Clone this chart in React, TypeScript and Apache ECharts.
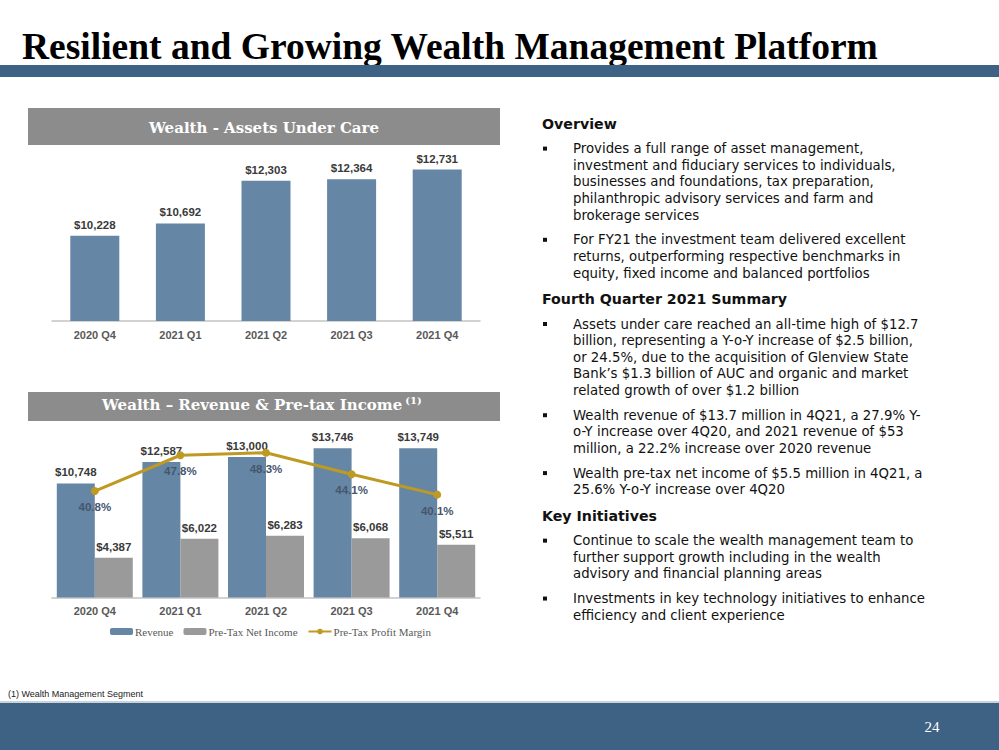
import React, { useEffect, useRef } from "react";
import * as echarts from "echarts";

const categories = ["2020 Q4", "2021 Q1", "2021 Q2", "2021 Q3", "2021 Q4"];
const aucValues = [10228, 10692, 12303, 12364, 12731];
const revenue = [10748, 12587, 13000, 13746, 13749];
const pretaxIncome = [4387, 6022, 6283, 6068, 5511];
const profitMargin = [40.8, 47.8, 48.3, 44.1, 40.1];

const pageTitle = "Resilient and Growing Wealth Management Platform";
const topPanelTitle = "Wealth - Assets Under Care";
const bottomPanelTitle = "Wealth \u2013 Revenue & Pre-tax Income";
const footnote = "(1) Wealth Management Segment";
const pageNumber = "24";

const sections: { heading: string; bullets: string[][] }[] = [
  {
    heading: "Overview",
    bullets: [
      [
        "Provides a full range of asset management,",
        "investment and fiduciary services to individuals,",
        "businesses and foundations, tax preparation,",
        "philanthropic advisory services and farm and",
        "brokerage services",
      ],
      [
        "For FY21 the investment team delivered excellent",
        "returns, outperforming respective benchmarks in",
        "equity, fixed income and balanced portfolios",
      ],
    ],
  },
  {
    heading: "Fourth Quarter 2021 Summary",
    bullets: [
      [
        "Assets under care reached an all-time high of $12.7",
        "billion, representing a Y-o-Y increase of $2.5 billion,",
        "or 24.5%, due to the acquisition of Glenview State",
        "Bank\u2019s $1.3 billion of AUC and organic and market",
        "related growth of over $1.2 billion",
      ],
      [
        "Wealth revenue of $13.7 million in 4Q21, a 27.9% Y-",
        "o-Y increase over 4Q20, and 2021 revenue of $53",
        "million, a 22.2% increase over 2020 revenue",
      ],
      [
        "Wealth pre-tax net income of $5.5 million in 4Q21, a",
        "25.6% Y-o-Y increase over 4Q20",
      ],
    ],
  },
  {
    heading: "Key Initiatives",
    bullets: [
      [
        "Continue to scale the wealth management team to",
        "further support growth including in the wealth",
        "advisory and financial planning areas",
      ],
      [
        "Investments in key technology initiatives to enhance",
        "efficiency and client experience",
      ],
    ],
  },
];

const BLUE_BAND = "#3e6284";
const BAR_BLUE = "#6686a5";
const BAR_GRAY = "#9a9a9a";
const BANNER_GRAY = "#8c8c8c";
const GOLD = "#bf9a22";

const money = (v: number) => "$" + v.toLocaleString("en-US");

function measure(text: string, font: string) {
  try {
    const c = document.createElement("canvas").getContext("2d");
    if (!c) return text.length * 9;
    c.font = font;
    return c.measureText(text).width;
  } catch (e) {
    return text.length * 9;
  }
}

function txt(text: string, x: number, y: number, font: string, fill: string, align = "left", extra: any = {}) {
  return {
    type: "text",
    x,
    y,
    silent: true,
    style: {
      text,
      font,
      fill,
      align,
      textAlign: align,
      verticalAlign: "middle",
      textVerticalAlign: "middle",
      ...extra,
    },
  };
}

function buildRightText() {
  const els: any[] = [];
  const lineH = 16.65;
  const bulletGap = 24.6;
  const headGap = 24.6;
  const toHead = 26.3;
  let y = 124;
  const bodyFont = '13.3px "DejaVu Sans"';
  const headFont = 'bold 14.2px "DejaVu Sans"';
  sections.forEach((sec, si) => {
    if (si > 0) y += toHead;
    els.push(txt(sec.heading, 542, y, headFont, "#111111"));
    sec.bullets.forEach((lines, bi) => {
      y += bi === 0 ? headGap : bulletGap;
      els.push({
        type: "rect",
        silent: true,
        shape: { x: 543, y: y - 2, width: 4, height: 4 },
        style: { fill: "#111111" },
      });
      lines.forEach((ln, li) => {
        if (li > 0) y += lineH;
        els.push(txt(ln, 573, y, bodyFont, "#111111"));
      });
    });
  });
  return els;
}

export default function App() {
  const ref = useRef<HTMLDivElement>(null);
  useEffect(() => {
    if (!ref.current) return;
    const chart = echarts.init(ref.current, undefined, { renderer: "svg" });
    const labelTop = {
      show: true,
      position: "top",
      distance: 5,
      fontFamily: "Liberation Sans",
      fontWeight: "bold",
      fontSize: 11.5,
      color: "#3a3a3a",
      formatter: (p: any) => money(p.value),
    };
    const axisCommon = {
      type: "category",
      data: categories,
      axisLine: { lineStyle: { color: "#c3c3c3", width: 1.5 } },
      axisTick: { show: false },
      axisLabel: {
        fontFamily: "Liberation Sans",
        fontWeight: "bold",
        fontSize: 11,
        color: "#595959",
        margin: 8,
      },
    };
    const bannerFont = 'bold 15px "DejaVu Serif"';
    const bottomTitleW = measure(bottomPanelTitle, bannerFont);
    const bottomTitleX = 102;
    const option: any = {
      animation: false,
      backgroundColor: "#ffffff",
      textStyle: { fontFamily: "Liberation Sans" },
      grid: [
        { left: 52, top: 136, width: 428, height: 185 },
        { left: 52, top: 422, width: 428, height: 175.5 },
      ],
      xAxis: [
        { ...axisCommon, gridIndex: 0 },
        { ...axisCommon, gridIndex: 1 },
      ],
      yAxis: [
        { type: "value", gridIndex: 0, min: 7000, max: 14000, show: false },
        { type: "value", gridIndex: 1, min: 1000, max: 16000, show: false },
        { type: "value", gridIndex: 1, min: 20, max: 54.3, show: false },
      ],
      legend: {
        data: ["Revenue", "Pre-Tax Net Income", "Pre-Tax Profit Margin"],
        left: 105,
        top: 621,
        itemWidth: 23,
        itemHeight: 7,
        itemGap: 10,
        textStyle: { fontFamily: "Liberation Serif", fontSize: 11, color: "#595959", padding: [0, 0, 0, -3] },
      },
      series: [
        {
          name: "AUC",
          type: "bar",
          xAxisIndex: 0,
          yAxisIndex: 0,
          data: aucValues,
          barWidth: 49,
          itemStyle: { color: BAR_BLUE },
          label: labelTop,
        },
        {
          name: "Revenue",
          type: "bar",
          xAxisIndex: 1,
          yAxisIndex: 1,
          data: revenue,
          barWidth: 38,
          barGap: "0%",
          itemStyle: { color: BAR_BLUE },
          label: labelTop,
        },
        {
          name: "Pre-Tax Net Income",
          type: "bar",
          xAxisIndex: 1,
          yAxisIndex: 1,
          data: pretaxIncome,
          barWidth: 38,
          barGap: "0%",
          itemStyle: { color: BAR_GRAY },
          label: labelTop,
        },
        {
          name: "Pre-Tax Profit Margin",
          type: "line",
          xAxisIndex: 1,
          yAxisIndex: 2,
          data: profitMargin,
          symbol: "circle",
          symbolSize: 8,
          lineStyle: { color: GOLD, width: 3 },
          itemStyle: { color: GOLD },
          label: {
            show: true,
            position: "bottom",
            distance: 6,
            fontFamily: "Liberation Sans",
            fontWeight: "bold",
            fontSize: 11.5,
            color: "#45566d",
            formatter: (p: any) => p.value.toFixed(1) + "%",
          },
          z: 5,
        },
      ],
      graphic: [
        txt(pageTitle, 22, 46, 'bold 37.5px "Liberation Serif"', "#000000"),
        { type: "rect", silent: true, shape: { x: 0, y: 65, width: 999, height: 12 }, style: { fill: BLUE_BAND } },
        { type: "rect", silent: true, shape: { x: 28, y: 108, width: 472, height: 37 }, style: { fill: BANNER_GRAY } },
        txt(topPanelTitle, 264, 128, bannerFont, "#ffffff", "center"),
        { type: "rect", silent: true, shape: { x: 28, y: 392, width: 472, height: 29 }, style: { fill: BANNER_GRAY } },
        txt(bottomPanelTitle, bottomTitleX, 405, bannerFont, "#ffffff", "left"),
        txt("(1)", bottomTitleX + bottomTitleW + 3, 400, 'bold 10px "DejaVu Serif"', "#ffffff", "left"),
        ...buildRightText(),
        txt(footnote, 8, 694, '9px "Liberation Sans"', "#222222"),
        { type: "rect", silent: true, shape: { x: 0, y: 701, width: 999, height: 2 }, style: { fill: "#c9d3dd" } },
        { type: "rect", silent: true, shape: { x: 0, y: 703, width: 999, height: 47 }, style: { fill: BLUE_BAND } },
        txt(pageNumber, 932, 727, '15px "Liberation Serif"', "#ffffff", "center"),
      ],
    };
    chart.setOption(option);
    return () => chart.dispose();
  }, []);
  return (
    <div
      ref={ref}
      style={{ position: "fixed", left: 0, top: 0, width: 999, height: 750, background: "#fff" }}
    />
  );
}
